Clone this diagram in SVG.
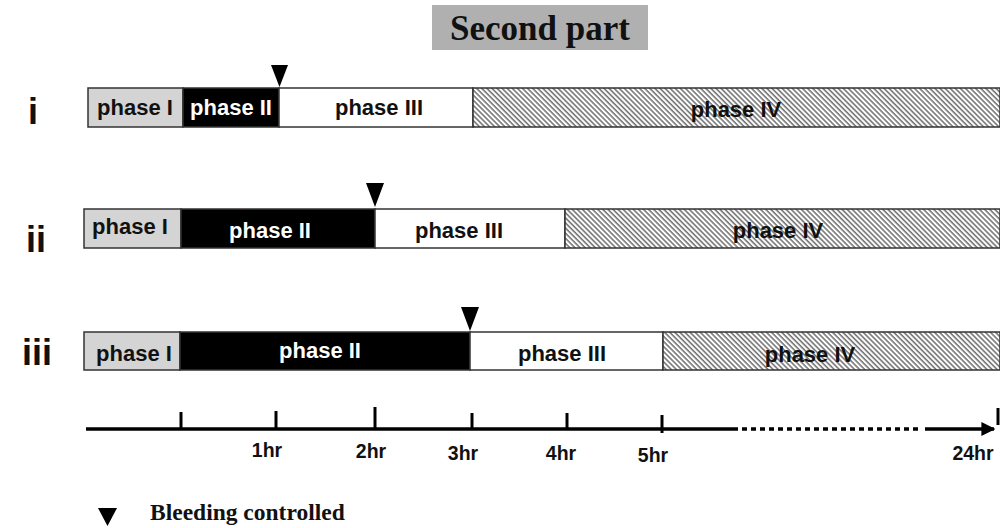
<svg xmlns="http://www.w3.org/2000/svg" width="1000" height="528" viewBox="0 0 1000 528">
<defs>
<pattern id="hatch" patternUnits="userSpaceOnUse" width="3.6" height="10" patternTransform="rotate(-45)">
<rect width="3.6" height="10" fill="#ffffff"/>
<line x1="1" y1="0" x2="1" y2="10" stroke="#555" stroke-width="1.3"/>
</pattern>
<marker id="arrow" markerWidth="4" markerHeight="4" refX="3.6" refY="2" orient="auto" markerUnits="strokeWidth">
<path d="M0,0 L4,2 L0,4 z" fill="#000"/>
</marker>
</defs>
<style>
.lbl{font-family:"Liberation Sans",Arial,sans-serif;font-weight:bold;font-size:22px;text-anchor:middle;fill:#111}
.wl{fill:#fff}
.row{font-family:"Liberation Sans",Arial,sans-serif;font-weight:bold;font-size:36px;text-anchor:middle;fill:#111}
.hr{font-family:"Liberation Sans",Arial,sans-serif;font-weight:bold;font-size:19.5px;text-anchor:middle;fill:#111}
.serif{font-family:"Liberation Serif","Times New Roman",serif;font-weight:bold;fill:#111}
.p1{fill:#d4d4d4;stroke:#333;stroke-width:1.5}
.p2{fill:#000;stroke:#333;stroke-width:1.5}
.p3{fill:#fff;stroke:#333;stroke-width:1.5}
.p4{fill:url(#hatch);stroke:#333;stroke-width:1.5}
.tri{fill:#000}
.axis{stroke:#000;stroke-width:3.5;fill:none}
.tick{stroke:#000;stroke-width:3}
</style>
<rect width="1000" height="528" fill="#fff"/>
<g id="title">
<rect x="432" y="5" width="216" height="45" fill="#b0b0b0"/>
<text class="serif" x="540" y="40" font-size="35" text-anchor="middle">Second part</text>
</g>
<g id="row-i">
<text class="row" x="33" y="124">i</text>
<rect class="p1" x="88" y="88" width="95" height="39"/>
<rect class="p2" x="183" y="88" width="96" height="39"/>
<rect class="p3" x="279" y="88" width="194" height="39"/>
<rect class="p4" x="473" y="88" width="527" height="39"/>
<text class="lbl" x="135" y="115">phase I</text>
<text class="lbl wl" x="231" y="115">phase II</text>
<text class="lbl" x="379" y="115">phase III</text>
<text class="lbl" x="736" y="117">phase IV</text>
<polygon class="tri" points="271,65 288,65 279.5,87"/>
</g>
<g id="row-ii">
<text class="row" x="36" y="252">ii</text>
<rect class="p1" x="84" y="209" width="97" height="39"/>
<rect class="p2" x="181" y="209" width="194" height="39"/>
<rect class="p3" x="375" y="209" width="190" height="39"/>
<rect class="p4" x="565" y="209" width="435" height="39"/>
<text class="lbl" x="130" y="234">phase I</text>
<text class="lbl wl" x="270" y="238">phase II</text>
<text class="lbl" x="459" y="238">phase III</text>
<text class="lbl" x="778" y="238">phase IV</text>
<polygon class="tri" points="366,183 384,183 375,207"/>
</g>
<g id="row-iii">
<text class="row" x="37" y="365">iii</text>
<rect class="p1" x="84" y="332" width="96" height="38"/>
<rect class="p2" x="180" y="332" width="290" height="38"/>
<rect class="p3" x="470" y="332" width="193" height="38"/>
<rect class="p4" x="663" y="332" width="337" height="38"/>
<text class="lbl" x="134" y="361">phase I</text>
<text class="lbl wl" x="320" y="358">phase II</text>
<text class="lbl" x="562" y="361">phase III</text>
<text class="lbl" x="810" y="362">phase IV</text>
<polygon class="tri" points="461,307 479,307 470,331"/>
</g>
<g id="connectors">
<line class="axis" x1="86" y1="429" x2="738" y2="429"/>
<line class="axis" x1="742" y1="429" x2="922" y2="429" stroke-dasharray="5 4"/>
<line class="axis" x1="925" y1="429" x2="994" y2="429" marker-end="url(#arrow)"/>
<line class="tick" x1="181" y1="412" x2="181" y2="429"/>
<line class="tick" x1="276" y1="411" x2="276" y2="429"/>
<line class="tick" x1="375" y1="407" x2="375" y2="429"/>
<line class="tick" x1="472" y1="413" x2="472" y2="429"/>
<line class="tick" x1="567" y1="413" x2="567" y2="429"/>
<line class="tick" x1="662" y1="415" x2="662" y2="433"/>
<line class="tick" x1="998" y1="408" x2="998" y2="425" stroke-width="4"/>
</g>
<g id="axis-labels">
<text class="hr" x="267" y="457">1hr</text>
<text class="hr" x="371" y="458">2hr</text>
<text class="hr" x="463" y="460">3hr</text>
<text class="hr" x="561" y="460">4hr</text>
<text class="hr" x="653" y="462">5hr</text>
<text class="hr" x="973" y="460">24hr</text>
</g>
<g id="legend">
<polygon class="tri" points="98,508 117,508 107.5,526"/>
<text class="serif" x="150" y="520" font-size="23.5">Bleeding controlled</text>
</g>
</svg>
